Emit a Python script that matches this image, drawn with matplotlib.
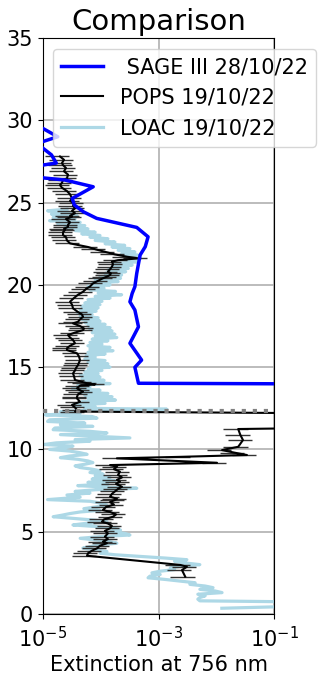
import matplotlib
matplotlib.use("Agg")
import matplotlib.pyplot as plt
import numpy as np

# SAGE III 28/10/22
sage_alt = [29.7, 29.5, 29.0, 28.6, 28.3, 27.9, 27.4, 27.2, 26.8, 26.5, 26.37, 25.96,
            25.25, 24.85, 24.44, 24.04, 23.49, 22.92, 22.32, 21.81, 20.70, 19.89,
            19.48, 18.97, 18.47, 17.45, 16.45, 15.43, 14.99, 14.02, 13.98, 13.0]
sage_ext = [5e-6, 1.0e-5, 1.8e-5, 8e-6, 1.0e-5, 1.4e-5, 1.7e-5, 7e-6, 5e-6, 1.0e-5,
            2.4e-5, 7.4e-5, 3.2e-5, 3.5e-5, 5.0e-5, 8.5e-5, 4.2e-4, 6.6e-4, 5.9e-4,
            4.8e-4, 4.2e-4, 3.9e-4, 3.5e-4, 3.2e-4, 3.9e-4, 4.5e-4, 3.2e-4, 5.1e-4,
            3.9e-4, 4.5e-4, 0.5, 1.0]

# POPS 19/10/22
pops_alt = [27.8, 27.6, 27.4, 27.28, 27.1, 26.9, 26.7, 26.47, 26.37, 26.2, 26.06, 25.9,
            25.7, 25.5, 25.25, 25.1, 24.95, 24.8, 24.65, 24.5, 24.35, 24.2, 24.14, 24.0,
            23.8, 23.65, 23.53, 23.4, 23.33, 23.2, 23.03, 22.9, 22.7, 22.52, 22.3, 22.15,
            22.01, 21.85, 21.71, 21.61, 21.5, 21.41, 21.25, 21.1, 20.95, 20.8, 20.7, 20.6,
            20.5, 20.4, 20.25, 20.09, 19.9, 19.75, 19.58, 19.4, 19.2, 18.98, 18.8, 18.57,
            18.35, 18.2, 18.06, 17.9, 17.76, 17.66, 17.5, 17.35, 17.25, 17.1, 16.95, 16.8,
            16.65, 16.45, 16.3, 16.15, 16.04, 15.84, 15.65, 15.43, 15.28, 15.13, 14.95,
            14.8, 14.62, 14.45, 14.22, 14.1, 14.02, 13.95, 13.88, 13.71, 13.6, 13.51,
            13.35, 13.2, 13.1, 12.9, 12.7, 12.55, 12.39, 12.3, 12.2, 11.3, 11.24, 10.9,
            10.57, 10.16, 9.96, 9.8, 9.66, 9.55, 9.46, 9.19, 9.05, 8.95, 8.8, 8.65, 8.45,
            8.3, 8.15, 8.04, 7.9, 7.73, 7.6, 7.45, 7.3, 7.13, 7.0, 6.93, 6.8, 6.65, 6.5,
            6.32, 6.2, 6.05, 5.91, 5.75, 5.61, 5.5, 5.35, 5.21, 5.05, 4.9, 4.7, 4.55, 4.4,
            4.3, 4.15, 3.99, 3.85, 3.69, 3.54, 2.98, 2.87, 2.67, 2.27]
pops_ext = [1.97e-5, 2.31e-5, 2.13e-5, 2.22e-5, 2.50e-5, 2.31e-5, 2.71e-5, 2.60e-5,
            2.22e-5, 2.13e-5, 1.97e-5, 2.13e-5, 2.60e-5, 2.94e-5, 3.18e-5, 2.94e-5,
            3.44e-5, 3.31e-5, 3.58e-5, 3.18e-5, 3.58e-5, 2.94e-5, 3.18e-5, 2.50e-5,
            2.94e-5, 2.71e-5, 2.71e-5, 2.31e-5, 2.40e-5, 2.22e-5, 2.22e-5, 2.50e-5,
            2.60e-5, 2.94e-5, 6.02e-5, 8.27e-5, 1.18e-4, 1.76e-4, 2.85e-4, 4.41e-4,
            1.99e-4, 1.56e-4, 1.63e-4, 1.56e-4, 1.45e-4, 1.33e-4, 1.50e-4, 1.45e-4,
            1.28e-4, 1.09e-4, 8.97e-5, 7.35e-5, 6.51e-5, 5.55e-5, 4.93e-5, 4.04e-5,
            3.44e-5, 2.94e-5, 3.18e-5, 3.31e-5, 4.04e-5, 4.73e-5, 4.93e-5, 4.37e-5,
            4.04e-5, 3.31e-5, 4.37e-5, 5.12e-5, 4.93e-5, 3.58e-5, 2.71e-5, 2.94e-5,
            3.31e-5, 3.58e-5, 2.94e-5, 2.60e-5, 2.60e-5, 3.88e-5, 4.20e-5, 4.37e-5,
            4.20e-5, 4.04e-5, 3.73e-5, 3.58e-5, 3.31e-5, 3.44e-5, 3.58e-5, 4.73e-5,
            5.78e-5, 7.95e-5, 4.37e-5, 3.88e-5, 4.37e-5, 4.93e-5, 4.04e-5, 3.88e-5,
            3.88e-5, 4.37e-5, 3.18e-5, 3.58e-5, 3.88e-5, 3.58e-5, 0.5, 0.5, 2.4e-2,
            2.6e-2, 2.9e-2, 2.4e-2, 1.26e-2, 2.1e-2, 3.4e-2, 2.4e-3, 1.9e-4, 1.03e-2,
            1.45e-4, 1.91e-4, 1.69e-4, 2.15e-4, 1.99e-4, 2.33e-4, 1.91e-4, 2.15e-4,
            1.84e-4, 2.33e-4, 1.99e-4, 1.76e-4, 1.56e-4, 1.45e-4, 1.91e-4, 1.76e-4,
            1.45e-4, 1.69e-4, 1.23e-4, 1.09e-4, 1.45e-4, 1.84e-4, 1.63e-4, 1.14e-4,
            1.05e-4, 1.33e-4, 1.56e-4, 1.45e-4, 1.18e-4, 1.33e-4, 1.18e-4, 1.33e-4,
            1.09e-4, 1.28e-4, 9.70e-5, 8.61e-5, 7.06e-5, 6.02e-5, 5.78e-5, 2.4e-3,
            3.1e-3, 2.55e-3, 2.9e-3]
pops_relerr = 0.45

# LOAC 19/10/22
loac_alt = [24.6, 24.5, 24.4, 24.3, 24.2, 24.1, 24.0, 23.9, 23.8, 23.7, 23.6, 23.5, 23.4,
            23.3, 23.2, 23.1, 23.0, 22.9, 22.8, 22.7, 22.6, 22.5, 22.4, 22.3, 22.2, 22.1,
            22.0, 21.9, 21.8, 21.7, 21.6, 21.5, 21.4, 21.3, 21.2, 21.1, 21.0, 20.9, 20.8,
            20.7, 20.6, 20.5, 20.4, 20.3, 20.2, 20.1, 20.0, 19.9, 19.8, 19.7, 19.6, 19.5,
            19.4, 19.3, 19.2, 19.1, 19.0, 18.9, 18.8, 18.7, 18.6, 18.5, 18.4, 18.3, 18.2,
            18.1, 18.0, 17.9, 17.8, 17.7, 17.6, 17.5, 17.4, 17.3, 17.2, 17.1, 17.0, 16.9,
            16.8, 16.7, 16.6, 16.5, 16.4, 16.3, 16.2, 16.1, 16.0, 15.9, 15.8, 15.7, 15.6,
            15.5, 15.4, 15.3, 15.2, 15.1, 15.0, 14.9, 14.8, 14.7, 14.6, 14.5, 14.4, 14.3,
            14.2, 14.1, 14.0, 13.9, 13.8, 13.7, 13.6, 13.5, 13.4, 13.3, 13.2, 13.1, 13.0,
            12.9, 12.8, 12.7, 12.6, 12.5, 12.44, 12.38, 12.3, 12.2, 12.1, 12.0, 11.9, 11.8,
            11.7, 11.6, 11.5, 11.4, 11.3, 11.2, 11.1, 11.0, 10.9, 10.8, 10.7, 10.6, 10.5,
            10.4, 10.3, 10.2, 10.1, 10.0, 9.9, 9.8, 9.7, 9.6, 9.5, 9.4, 9.3, 9.2, 9.1, 9.0,
            8.9, 8.8, 8.7, 8.6, 8.5, 8.4, 8.3, 8.2, 8.1, 8.0, 7.9, 7.8, 7.7, 7.64, 7.55,
            7.45, 7.35, 7.23, 7.1, 6.95, 6.85, 6.75, 6.62, 6.5, 6.4, 6.3, 6.2, 6.1, 6.0,
            5.91, 5.8, 5.7, 5.61, 5.5, 5.41, 5.3, 5.2, 5.1, 5.0, 4.9, 4.8, 4.7, 4.6, 4.5,
            4.4, 4.3, 4.2, 4.1, 4.0, 3.9, 3.8, 3.7, 3.6, 3.5, 3.4, 3.3, 3.2, 3.1, 3.0, 2.9,
            2.8, 2.7, 2.6, 2.5, 2.4, 2.3, 2.2, 2.1, 2.0, 1.9, 1.8, 1.7, 1.6, 1.5, 1.4, 1.3,
            1.2, 1.1, 1.0, 0.9, 0.8, 0.74, 0.46, 0.35]
loac_ext = [2.6e-5, 1.2e-5, 3.0e-5, 1.4e-5, 3.9e-5, 1.5e-5, 3.6e-5, 1.3e-5,
            4.4e-5, 1.8e-5, 5.3e-5, 2.4e-5, 6.0e-5, 3.6e-5, 8.0e-5, 4.7e-5, 9.7e-5,
            6.5e-5, 1.33e-4, 8.0e-5, 1.76e-4, 1.19e-4, 2.6e-4, 1.57e-4, 3.2e-4, 2.0e-4,
            3.9e-4, 2.3e-4, 4.4e-4, 2.6e-4, 4.9e-4, 3.0e-4, 4.4e-4, 1.76e-4, 3.5e-4,
            1.57e-4, 3.0e-4, 1.33e-4, 2.7e-4, 1.19e-4, 2.3e-4, 9.7e-5, 2.2e-4, 8.0e-5,
            2.0e-4, 7.1e-5, 1.45e-4, 6.0e-5, 1.14e-4, 6.5e-5, 1.8e-4, 9.0e-5, 2.3e-4,
            8.0e-5, 1.45e-4, 6.0e-5, 1.05e-4, 5.3e-5, 9.7e-5, 4.7e-5, 9.0e-5, 4.4e-5,
            8.3e-5, 4.0e-5, 7.1e-5, 4.4e-5, 9.0e-5, 4.7e-5, 9.7e-5, 5.3e-5, 1.19e-4,
            6.0e-5, 1.45e-4, 6.5e-5, 1.57e-4, 7.1e-5, 1.76e-4, 8.0e-5, 1.9e-4, 7.1e-5,
            1.33e-4, 6.5e-5, 1.05e-4, 6.0e-5, 1.45e-4, 6.5e-5, 1.63e-4, 6.0e-5, 1.19e-4,
            5.6e-5, 8.0e-5, 5.3e-5, 1.19e-4, 6.0e-5, 1.33e-4, 6.5e-5, 1.45e-4, 6.0e-5,
            1.05e-4, 5.3e-5, 9.0e-5, 4.4e-5, 9.7e-5, 4.7e-5, 1.14e-4, 5.3e-5, 1.45e-4,
            4.0e-5, 6.5e-5, 3.2e-5, 9.7e-5, 4.4e-5, 1.33e-4, 5.3e-5, 1.57e-4, 6.0e-5,
            1.8e-4, 4.7e-5, 1.19e-4, 3.3e-5, 8.0e-5, 5.3e-5, 1.4e-3, 6.5e-5, 2.0e-5,
            4.4e-5, 1.1e-5, 7.1e-5, 8.6e-5, 1.3e-5, 1.2e-5, 5.3e-5, 2.0e-5, 7.3e-5,
            1.6e-5, 1.5e-5, 6.5e-5, 1.28e-4, 2.0e-5, 8.0e-5, 3.2e-4, 3.6e-5, 6.5e-5,
            1.7e-5, 1.05e-5, 3.3e-5, 2.4e-5, 1.3e-5, 2.9e-5, 4.4e-5, 5.8e-5, 2.9e-5,
            2.0e-5, 4.0e-5, 6.0e-5, 7.3e-5, 5.3e-5, 3.6e-5, 4.4e-5, 7.1e-5, 9.7e-5,
            6.5e-5, 1.1e-4, 8.0e-5, 1.45e-4, 7.1e-5, 1.76e-4, 6.0e-5, 1.33e-4, 4.0e-5,
            1.45e-4, 4.2e-4, 8.0e-5, 3.6e-5, 6.5e-5, 2.6e-5, 4.4e-5, 1.2e-5, 6.5e-5,
            9.7e-5, 1.28e-4, 8.0e-5, 5.1e-5, 9.7e-5, 4.4e-5, 2.9e-5, 2.1e-5, 1.5e-5,
            3.6e-5, 8.0e-5, 1.28e-4, 5.3e-5, 3.3e-5, 9.7e-5, 1.76e-4, 2.2e-4, 1.45e-4,
            2.6e-4, 3.2e-4, 9.7e-5, 4.4e-5, 8.0e-5, 1.45e-4, 1.9e-4, 9.7e-5, 6.5e-5,
            4.9e-5, 8.0e-5, 1.28e-4, 9.7e-5, 1.76e-4, 4.8e-4, 1.3e-3, 3.1e-3, 1.9e-3,
            2.9e-3, 5.2e-3, 2.4e-3, 1.6e-3, 1.9e-3, 1.07e-3, 7.7e-4, 1.07e-3, 7.1e-4,
            6.6e-4, 1.3e-3, 2.4e-3, 4.3e-3, 3.5e-3, 6.4e-3, 8.8e-3, 5.2e-3, 9.5e-3,
            1.26e-2, 4.8e-3, 6.4e-3, 5.2e-3, 4.8e-3, 5.2e-3, 0.2, 0.2, 1.25e-2]

tropopause_alt = 12.35

fig = plt.figure(figsize=(3.2, 6.78), dpi=100)
ax = fig.add_axes([43/320, 64/678, 231/320, 576/678])

ax.plot(loac_ext, loac_alt, color='lightblue', lw=2.3, label='LOAC 19/10/22', zorder=2)
pe = np.array(pops_ext) * pops_relerr
ax.errorbar(pops_ext, pops_alt, xerr=pe, fmt='none', ecolor='0.2', elinewidth=1.0, zorder=3)
ax.plot(pops_ext, pops_alt, color='black', lw=1.5, label='POPS 19/10/22', zorder=4)
ax.plot(sage_ext, sage_alt, color='blue', lw=2.5, label=' SAGE III 28/10/22', zorder=5)
ax.axhline(tropopause_alt, color='gray', ls=':', lw=3, zorder=6)

ax.set_xscale('log')
ax.set_xlim(1e-5, 1e-1)
ax.set_ylim(0, 35)
ax.set_xticks([1e-5, 1e-3, 1e-1])
ax.xaxis.set_minor_locator(matplotlib.ticker.NullLocator())
ax.set_yticks(range(0, 36, 5))
ax.tick_params(labelsize=15)
ax.tick_params(axis='x', pad=5)
ax.grid(True, color='#b0b0b0', lw=1.2)
ax.set_xlabel('Extinction at 756 nm', fontsize=15, labelpad=3)
ax.set_title('Comparison', fontsize=21)

h, l = ax.get_legend_handles_labels()
order = [2, 1, 0]
ax.legend([h[i] for i in order], [l[i] for i in order], fontsize=15,
          loc='upper left', bbox_to_anchor=((53 - 43) / 231, (614 - 49) / 576),
          borderaxespad=0)

fig.savefig('out.png', dpi=100)
